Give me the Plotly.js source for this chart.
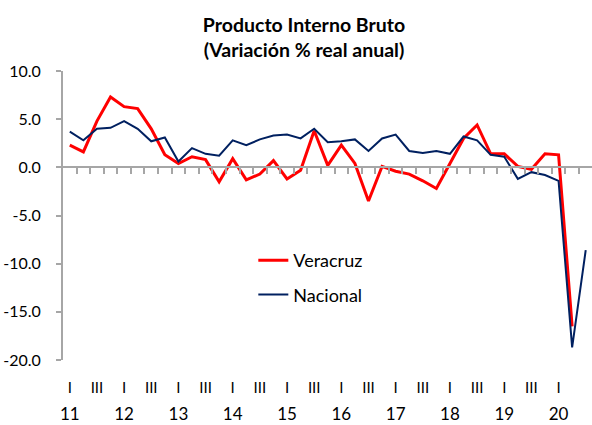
<!DOCTYPE html>
<html>
<head>
<meta charset="utf-8">
<script src="https://cdn.plot.ly/plotly-3.0.1.min.js"></script>
<style>html,body{margin:0;padding:0;background:#fff;}#chart{width:592px;height:425px;}</style>
</head>
<body>
<div id="chart"></div>
<script>
// ---- data ----
const years = ['11','12','13','14','15','16','17','18','19','20'];
const quarterNames = ['I','','III',''];
const veracruz = [2.3, 1.6, 4.8, 7.3, 6.3, 6.1, 4.0, 1.3, 0.4, 1.1, 0.8, -1.5, 0.9, -1.3, -0.7, 0.7,
  -1.2, -0.3, 3.8, 0.2, 2.3, 0.4, -3.5, 0.1, -0.4, -0.7, -1.4, -2.2, 0.4, 3.0, 4.4, 1.4, 1.4, 0.1,
  -0.2, 1.4, 1.3, -16.5];
const nacional = [3.7, 2.8, 4.0, 4.1, 4.8, 4.0, 2.7, 3.1, 0.6, 2.0, 1.4, 1.2, 2.8, 2.3, 2.9, 3.3,
  3.4, 3.0, 4.0, 2.6, 2.7, 2.9, 1.7, 3.0, 3.4, 1.7, 1.5, 1.7, 1.4, 3.2, 2.8, 1.3, 1.1, -1.2,
  -0.5, -0.8, -1.4, -18.7, -8.6];
const yTicks = [10, 5, 0, -5, -10, -15, -20];

// ---- derived ----
const xV = veracruz.map((_, i) => i);
const xN = nacional.map((_, i) => i);
const nQ = years.length * 4;
const qVals = [], qText = [], yrVals = [], yrText = [];
for (let i = 0; i < nQ; i++) {
  const q = quarterNames[i % 4];
  if (q) { qVals.push(i); qText.push(q); }
  if (i % 4 === 0) { yrVals.push(i); yrText.push(years[i / 4]); }
}
const bounds = [];
for (let i = 0; i < nQ; i++) bounds.push(i + 0.5);

const FONT = 'Lato, "Open Sans", sans-serif';
const GREY = '#a6a6a6';
const yd0 = 60 / 349;
const xr = [-0.5, -0.5 + 529.5 / 13.59];

const traces = [
  {x: xV, y: veracruz, name: 'Veracruz', type: 'scatter', mode: 'lines',
   line: {color: '#ff0000', width: 3}, legendgroup: 'a', xaxis: 'x', yaxis: 'y'},
  {x: xN, y: nacional, name: 'Nacional', type: 'scatter', mode: 'lines',
   line: {color: '#002060', width: 2}, legendgroup: 'b', xaxis: 'x', yaxis: 'y'},
  {x: [0], y: [null], showlegend: false, xaxis: 'x2', yaxis: 'y', hoverinfo: 'skip'},
  {x: [0], y: [null], showlegend: false, xaxis: 'x3', yaxis: 'y', hoverinfo: 'skip'}
];

const layout = {
  width: 592, height: 425,
  margin: {l: 62.5, r: 0, t: 71, b: 5, pad: 0},
  paper_bgcolor: '#fff', plot_bgcolor: 'rgba(0,0,0,0)',
  font: {family: FONT, color: '#000', size: 15},
  title: {text: '<b>Producto Interno Bruto<br>(Variación % real anual)</b>',
          font: {family: FONT, size: 19.5, color: '#000'},
          x: 304 / 592, xref: 'container', xanchor: 'center',
          y: 1 - 32 / 425, yref: 'container', yanchor: 'top'},
  showlegend: true,
  legend: {x: (253 - 62.5) / 529.5, xanchor: 'left', y: 0.51, yanchor: 'top',
           font: {family: FONT, size: 18, color: '#000'},
           traceorder: 'grouped', tracegroupgap: 8, bgcolor: 'rgba(0,0,0,0)'},
  xaxis: {range: xr, domain: [0, 1], anchor: 'y', showline: false, showgrid: false, zeroline: false,
          ticks: '', tickmode: 'array', tickvals: qVals, ticktext: qText,
          ticklabelstandoff: 17, tickfont: {size: 15, family: FONT}},
  xaxis2: {range: xr, overlaying: 'x', anchor: 'y', side: 'bottom', showline: false, showgrid: false,
           zeroline: false, ticks: '', tickmode: 'array', tickvals: yrVals, ticktext: yrText,
           ticklabelstandoff: 42, tickfont: {size: 17, family: FONT}},
  xaxis3: {range: xr, overlaying: 'x', anchor: 'free', position: yd0 + (2 / 3) * (1 - yd0),
           showline: true, linecolor: GREY, linewidth: 2, showgrid: false, zeroline: false,
           ticks: 'outside', ticklen: 6, tickwidth: 2, tickcolor: GREY,
           tickmode: 'array', tickvals: bounds, showticklabels: false},
  yaxis: {range: [-20, 10], domain: [yd0, 1], showline: true, linecolor: GREY, linewidth: 2,
          showgrid: false, zeroline: false, ticks: 'outside', ticklen: 5, tickwidth: 2, tickcolor: GREY,
          tickmode: 'array', tickvals: yTicks, ticktext: yTicks.map(v => v.toFixed(1)),
          ticklabelstandoff: 12, tickfont: {size: 16, family: FONT}}
};

Plotly.newPlot('chart', traces, layout, {staticPlot: true, displayModeBar: false});
</script>
</body>
</html>
